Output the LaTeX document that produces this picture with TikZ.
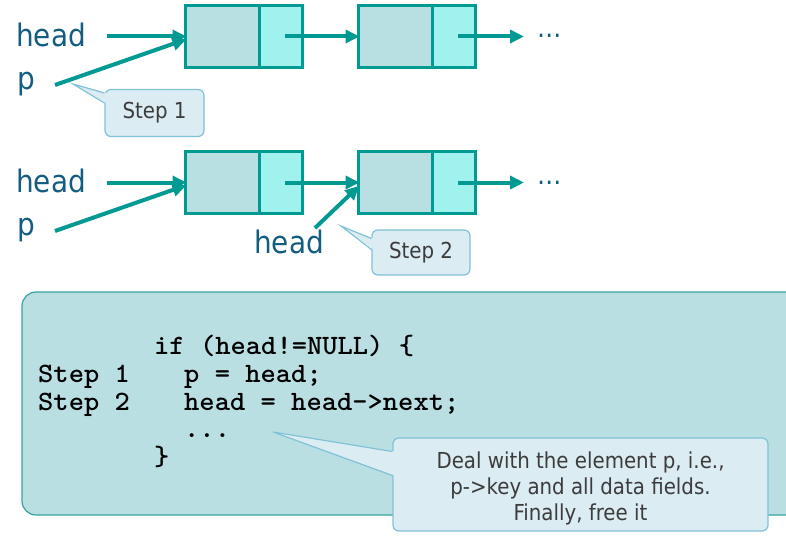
\documentclass[tikz,border=0pt]{standalone}
\usepackage{fontspec}
\usetikzlibrary{arrows.meta,calc}
\newfontfamily\tah{DejaVu Sans Condensed}
\newfontfamily\cour{lmmonolt10-bold.otf}[FakeStretch=1.04]
\definecolor{tealc}{HTML}{009A92}
\definecolor{cellfill}{HTML}{B8DFE1}
\definecolor{ptrfill}{HTML}{A0F2EF}
\definecolor{lblc}{HTML}{135D82}
\definecolor{callfill}{HTML}{DCECF3}
\definecolor{calldraw}{HTML}{80C2D7}
\definecolor{panelfill}{HTML}{BADFE2}
\definecolor{paneldraw}{HTML}{35A39C}
\definecolor{steptext}{HTML}{3C3C3C}
\tikzset{
  cellL/.style={draw=tealc, line width=3pt, fill=cellfill, minimum width=74pt, minimum height=62pt, inner sep=0pt, outer sep=0pt},
  cellR/.style={draw=tealc, line width=3pt, fill=ptrfill, minimum width=43pt, minimum height=62pt, inner sep=0pt, outer sep=0pt},
  arr/.style={draw=tealc, line width=4pt, -{Triangle[length=14pt,width=13pt]}, shorten >=-1pt},
  lbl/.style={font=\tah\fontsize{31}{31}\selectfont, text=lblc, inner sep=0pt},
  dots/.style={font=\tah\fontsize{27}{27}\selectfont, text=lblc, inner sep=0pt},
  callbox/.style={draw=calldraw, line width=1.2pt, fill=callfill, rounded corners=6pt, inner sep=0pt},
  calltext/.style={text=steptext, font=\tah\fontsize{22}{26}\selectfont, align=center, inner sep=0pt},
  callptr/.style={fill=callfill},
  calledge/.style={draw=calldraw, line width=1.2pt},
  panel/.style={draw=paneldraw, line width=1.2pt, fill=panelfill, rounded corners=14pt, inner sep=0pt, outer sep=0pt},
  code/.style={font=\cour\fontsize{28}{28}\selectfont, text=black, inner sep=0pt, anchor=base west},
}
\begin{document}
\begin{tikzpicture}[x=1pt,y=-1pt]
\useasboundingbox (0,0) rectangle (786,540);

% ---------- row 1 ----------
\node[cellL] (a1) at (222.5,36.5) {};
\node[cellR] (b1) at (281,36.5) {};
\node[cellL] (a2) at (395.5,36.5) {};
\node[cellR] (b2) at (454,36.5) {};
\node[lbl, anchor=base west] (h1) at (16,47) {head};
\node[lbl, anchor=base west] (p1) at (17,90) {p};
\node[dots, anchor=base west] (d1) at (537,38) {…};
\coordinate (hs1) at (107,36.5);
\coordinate (ps1) at (55,85);
\coordinate (e1) at (523,36.5);
\draw[arr] (hs1) -- (a1.west);
\draw[arr] (ps1) -- ($(a1.west)+(0,3)$);
\draw[arr] ($(b1.center)+(4,0)$) -- (a2.west);
\draw[arr] ($(b2.center)+(4,0)$) -- (e1);

% Step 1 callout
\node[callbox, minimum width=99pt, minimum height=47pt] (s1) at (154.5,113) {};
\node[calltext] (s1t) at (s1.center) {Step 1};
\coordinate (t1) at (73,84);
\fill[callptr] (t1) -- ($(s1.west)+(2,-20)$) -- ($(s1.west)+(2,-10)$) -- cycle;
\draw[calledge] ($(s1.west)+(0,-20)$) -- (t1) -- ($(s1.west)+(0,-10)$);

% ---------- row 2 ----------
\node[cellL] (a3) at (222.5,182.5) {};
\node[cellR] (b3) at (281,182.5) {};
\node[cellL] (a4) at (395.5,182.5) {};
\node[cellR] (b4) at (454,182.5) {};
\node[lbl, anchor=base west] (h2) at (16,193) {head};
\node[lbl, anchor=base west] (p2) at (17,235) {p};
\node[lbl, anchor=base west] (h3) at (254,253) {head};
\node[dots, anchor=base west] (d2) at (537,184) {…};
\coordinate (hs2) at (107,182.5);
\coordinate (ps2) at (55,231);
\coordinate (hs3) at (315,228);
\coordinate (e2) at (523,182.5);
\draw[arr] (hs2) -- (a3.west);
\draw[arr] (ps2) -- ($(a3.west)+(0,3)$);
\draw[arr] ($(b3.center)+(4,0)$) -- (a4.west);
\draw[arr] (hs3) -- ($(a4.west)+(0,4)$);
\draw[arr] ($(b4.center)+(4,0)$) -- (e2);

% Step 2 callout
\node[callbox, minimum width=98pt, minimum height=45pt] (s2) at (421,252.5) {};
\node[calltext] (s2t) at (s2.center) {Step 2};
\coordinate (t2) at (341,226);
\fill[callptr] (t2) -- ($(s2.west)+(2,-14)$) -- ($(s2.west)+(2,-3)$) -- cycle;
\draw[calledge] ($(s2.west)+(0,-14)$) -- (t2) -- ($(s2.west)+(0,-3)$);

% ---------- code panel ----------
\node[panel, anchor=north west, minimum width=790pt, minimum height=223pt] (pan) at (22,292) {};
\node[code] (c1) at (154,354) {if (head!=NULL) \{};
\node[code] (l1) at (38,382) {Step 1};
\node[code] (c2) at (184,382) {p = head;};
\node[code] (l2) at (38,410) {Step 2};
\node[code] (c3) at (184,410) {head = head->next;};
\node[code] (c4) at (184,437) {...};
\node[code] (c5) at (154,465) {\}};

% big callout
\node[callbox, minimum width=375pt, minimum height=93pt] (s3) at (580.5,484.5) {};
\node[calltext] (s3t) at (580.5,488) {Deal with the element p, i.e.,\\p->key and all data fields.\\Finally, free it};
\coordinate (t3) at (273,432);
\fill[callptr] (t3) -- ($(s3.west)+(2,-33)$) -- ($(s3.west)+(2,-9)$) -- cycle;
\draw[calledge] ($(s3.west)+(0,-33)$) -- (t3) -- ($(s3.west)+(0,-9)$);
\end{tikzpicture}
\end{document}
